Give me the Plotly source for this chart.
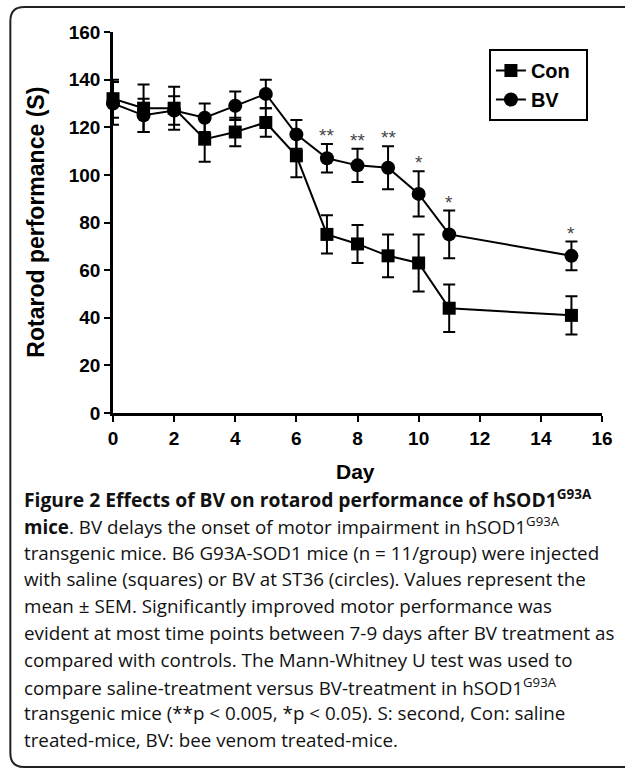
import plotly.graph_objects as go

# ---- data ----
days = [0, 1, 2, 3, 4, 5, 6, 7, 8, 9, 10, 11, 15]
con_mean = [132, 128, 128, 115, 118, 122, 108, 75, 71, 66, 63, 44, 41]
con_sem = [8, 10, 9, 9.5, 6, 6, 9, 8, 8, 9, 12, 10, 8]
bv_mean = [130, 125, 127, 124, 129, 134, 117, 107, 104, 103, 92, 75, 66]
bv_sem = [9, 7, 6, 6, 6, 6, 6, 6, 7, 9, 9.5, 10, 6]
significance = ["", "", "", "", "", "", "", "**", "**", "**", "*", "*", "*"]

x_ticks = [0, 2, 4, 6, 8, 10, 12, 14, 16]
y_ticks = [0, 20, 40, 60, 80, 100, 120, 140, 160]

caption_lines = [
    "<b>Figure 2 Effects of BV on rotarod performance of hSOD1<sup>G93A</sup></b>",
    "<b>mice</b>. BV delays the onset of motor impairment in hSOD1<sup>G93A</sup>",
    "transgenic mice. B6 G93A-SOD1 mice (n = 11/group) were injected",
    "with saline (squares) or BV at ST36 (circles). Values represent the",
    "mean ± SEM. Significantly improved motor performance was",
    "evident at most time points between 7-9 days after BV treatment as",
    "compared with controls. The Mann-Whitney U test was used to",
    "compare saline-treatment versus BV-treatment in hSOD1<sup>G93A</sup>",
    "transgenic mice (**p &lt; 0.005, *p &lt; 0.05). S: second, Con: saline",
    "treated-mice, BV: bee venom treated-mice.",
]

# ---- layout geometry (pixels) ----
W, H = 625, 771
L, R, T, B = 113, 606, 32, 413
PW, PH = R - L, B - T


def px(xp):
    return (xp - L) / PW


def py(yp):
    return (B - yp) / PH


FONT = "Liberation Sans, Arial, sans-serif"
CAP_FONT = "Open Sans, Noto Sans, sans-serif"

fig = go.Figure()

fig.add_trace(go.Scatter(
    x=days, y=con_mean, name="Con\u00a0\u00a0", mode="lines+markers",
    line=dict(color="black", width=2),
    marker=dict(symbol="square", size=13, color="black"),
    error_y=dict(type="data", array=con_sem, visible=True,
                 color="black", thickness=2, width=6),
    cliponaxis=False,
))
fig.add_trace(go.Scatter(
    x=days, y=bv_mean, name="BV", mode="lines+markers",
    line=dict(color="black", width=2),
    marker=dict(symbol="circle", size=14, color="black"),
    error_y=dict(type="data", array=bv_sem, visible=True,
                 color="black", thickness=2, width=6),
    cliponaxis=False,
))

annotations = []
# significance stars above BV error bars
for d, m, s, sig in zip(days, bv_mean, bv_sem, significance):
    if sig:
        annotations.append(dict(
            x=d, y=m + s, xref="x", yref="y", text=sig, showarrow=False,
            yanchor="bottom", yshift=-4,
            font=dict(family=FONT, size=19, color="#444444"),
        ))

# axis titles
annotations.append(dict(
    x=px(35), y=py(222), xref="paper", yref="paper",
    text="<b>Rotarod performance (S)</b>", textangle=-90, showarrow=False,
    xanchor="center", yanchor="middle",
    font=dict(family=FONT, size=23, color="black"),
))
annotations.append(dict(
    x=px(357), y=py(471), xref="paper", yref="paper",
    text="<b>Day</b>", showarrow=False, xanchor="center", yanchor="middle",
    font=dict(family=FONT, size=21, color="black"),
))

# caption
cap_y0, cap_dy = 499, 26.8
for i, line in enumerate(caption_lines):
    annotations.append(dict(
        x=px(21), y=py(cap_y0 + i * cap_dy), xref="paper", yref="paper",
        text=line, showarrow=False, xanchor="left", yanchor="middle",
        align="left",
        font=dict(family=CAP_FONT, size=18.8 if i else 19.3, color="#111111"),
    ))

# rounded frame (right side runs off the page)
x0, x1 = px(9.5), px(650)
y0, y1 = py(767), py(7)
rx, ry = 14 / PW, 14 / PH
frame_path = (f"M {x1},{y1} L {x0 + rx},{y1} Q {x0},{y1} {x0},{y1 - ry} "
              f"L {x0},{y0 + ry} Q {x0},{y0} {x0 + rx},{y0} L {x1},{y0}")

fig.update_layout(
    width=W, height=H, autosize=False,
    margin=dict(l=L, r=W - R, t=T, b=H - B),
    paper_bgcolor="white", plot_bgcolor="white",
    showlegend=True,
    legend=dict(
        x=px(492), y=py(49), xanchor="left", yanchor="top",
        bordercolor="black", borderwidth=2, bgcolor="white",
        font=dict(family=FONT, size=20, color="black", weight="bold"),
        itemwidth=30, tracegroupgap=0,
    ),
    annotations=annotations,
    shapes=[dict(type="path", path=frame_path, xref="paper", yref="paper",
                 line=dict(color="#222222", width=2), layer="above")],
)

fig.update_xaxes(
    range=[0, 16], tickvals=x_ticks, ticktext=[str(v) for v in x_ticks],
    showline=True, linecolor="black", linewidth=2.5,
    ticks="outside", ticklen=6, tickwidth=2, tickcolor="black",
    showgrid=False, zeroline=False,
    tickfont=dict(family=FONT, size=19, color="black", weight="bold"),
)
fig.update_yaxes(
    range=[0, 160], tickvals=y_ticks, ticktext=[str(v) for v in y_ticks],
    showline=True, linecolor="black", linewidth=2.5,
    ticks="outside", ticklen=6, tickwidth=2, tickcolor="black",
    showgrid=False, zeroline=False,
    tickfont=dict(family=FONT, size=19, color="black", weight="bold"),
)

fig.write_html(
    "out.html",
    config={"displayModeBar": False},
    post_script="document.body.style.margin='0px';"
                "document.body.style.overflow='hidden';",
)
